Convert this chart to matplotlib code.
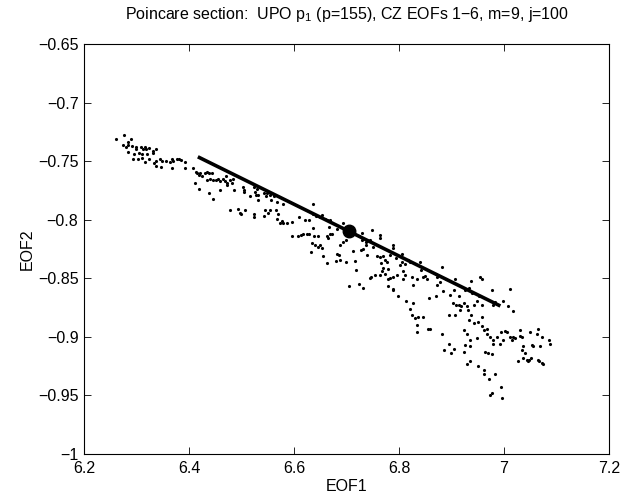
import matplotlib
matplotlib.use('Agg')
import matplotlib.pyplot as plt
import numpy as np

plt.rcParams['font.family'] = ['Liberation Sans', 'DejaVu Sans']
plt.rcParams['mathtext.default'] = 'regular'

# Poincare section points (EOF1, EOF2)
eof1 = [
    6.261, 6.277, 6.283, 6.289, 6.275, 6.281, 6.284, 6.291, 6.283, 6.299,
    6.299, 6.308, 6.312, 6.316, 6.319, 6.324, 6.331, 6.338, 6.295, 6.305,
    6.310, 6.294, 6.302, 6.310, 6.321, 6.332, 6.316, 6.324, 6.333, 6.338,
    6.345, 6.337, 6.349, 6.347, 6.357, 6.363, 6.367, 6.370, 6.377, 6.381,
    6.384, 6.367, 6.392, 6.392,
    6.408, 6.413, 6.416, 6.421, 6.424, 6.420, 6.430, 6.435, 6.439, 6.444,
    6.434, 6.440, 6.446, 6.451, 6.456, 6.459, 6.465, 6.470, 6.469, 6.473,
    6.478, 6.484, 6.482, 6.411, 6.420, 6.439, 6.446, 6.460, 6.472, 6.486,
    6.502, 6.504, 6.505, 6.523, 6.525, 6.529, 6.528, 6.516, 6.531, 6.532,
    6.542, 6.546, 6.548, 6.554, 6.556, 6.561, 6.567, 6.580, 6.554, 6.545,
    6.543, 6.550, 6.566, 6.570, 6.567, 6.578, 6.580, 6.573, 6.586, 6.596,
    6.610, 6.621, 6.629, 6.637, 6.637, 6.642, 6.650, 6.653, 6.659, 6.663,
    6.667, 6.479, 6.493, 6.497, 6.507, 6.523, 6.524, 6.500, 6.597, 6.608,
    6.613, 6.618, 6.624, 6.629, 6.637, 6.638, 6.646, 6.662, 6.669, 6.664,
    6.634, 6.640, 6.646, 6.650, 6.653, 6.632, 6.656, 6.662,
    6.669, 6.672, 6.681, 6.693, 6.729, 6.748, 6.764, 6.763, 6.723, 6.729,
    6.738, 6.744, 6.694, 6.699, 6.688, 6.681, 6.686, 6.680, 6.688, 6.700,
    6.712, 6.716, 6.727, 6.732, 6.737, 6.740, 6.751, 6.759, 6.764, 6.770,
    6.773, 6.765, 6.777, 6.783, 6.789, 6.788, 6.794, 6.805, 6.805, 6.801,
    6.812, 6.818, 6.821, 6.840, 6.841, 6.846, 6.770, 6.767, 6.773, 6.780,
    6.764, 6.754, 6.746, 6.780, 6.783, 6.789, 6.796, 6.808, 6.811, 6.808,
    6.824, 6.826, 6.834, 6.850, 6.853, 6.872, 6.873, 6.878, 6.881, 6.871,
    6.890, 6.907, 6.938, 6.954, 6.959, 6.904, 6.915, 6.926, 6.934, 6.940,
    6.953, 6.959, 6.977, 6.980, 6.983, 6.999, 7.012, 7.008, 7.018, 6.884,
    6.871, 6.897, 6.858, 6.813, 6.799, 6.789, 6.780, 6.789, 6.719, 6.724,
    6.732, 6.744, 6.705, 6.821, 6.827, 6.824, 6.831, 6.837, 6.834, 6.835,
    6.846, 6.856, 6.860, 6.896, 6.902, 6.909, 6.915, 6.919, 6.916, 6.923,
    6.929, 6.932, 6.938, 6.942, 6.951, 6.959, 6.934, 6.943, 6.948, 6.907,
    6.881, 6.923, 6.929, 6.935, 6.948, 6.958, 6.961, 6.967, 6.973, 6.980,
    6.986, 6.994, 7.002, 7.005, 7.012, 7.015, 7.018, 7.021, 7.031, 7.034,
    7.031, 7.050, 7.065, 7.062, 7.072, 7.085, 7.088, 6.999, 6.992, 6.980,
    6.967, 6.970, 6.977, 6.964, 6.935, 6.926, 6.923, 6.904, 6.895, 6.885,
    6.900, 7.037, 7.034, 7.040, 7.043, 7.048, 7.051, 7.046, 7.027, 7.037,
    7.056, 7.053, 7.069, 7.067, 7.072, 7.075, 7.064, 6.929, 6.935, 6.951,
    6.961, 6.962, 6.972, 6.983, 6.994, 6.996, 6.973, 6.977,
]
eof2 = [
    -0.731, -0.728, -0.734, -0.731, -0.736, -0.738, -0.736, -0.737, -0.742, -0.738,
    -0.740, -0.738, -0.740, -0.738, -0.740, -0.739, -0.741, -0.740, -0.744, -0.743,
    -0.744, -0.748, -0.748, -0.747, -0.744, -0.743, -0.751, -0.748, -0.752, -0.750,
    -0.748, -0.754, -0.750, -0.755, -0.750, -0.751, -0.748, -0.750, -0.748, -0.748,
    -0.749, -0.756, -0.751, -0.756,
    -0.756, -0.759, -0.760, -0.760, -0.763, -0.762, -0.760, -0.759, -0.760, -0.760,
    -0.766, -0.765, -0.766, -0.766, -0.765, -0.767, -0.765, -0.763, -0.767, -0.769,
    -0.766, -0.765, -0.769, -0.769, -0.774, -0.777, -0.782, -0.775, -0.770, -0.775,
    -0.772, -0.775, -0.776, -0.772, -0.776, -0.774, -0.779, -0.780, -0.783, -0.779,
    -0.777, -0.780, -0.777, -0.779, -0.783, -0.780, -0.785, -0.787, -0.792, -0.792,
    -0.797, -0.794, -0.792, -0.795, -0.799, -0.801, -0.803, -0.803, -0.803, -0.802,
    -0.798, -0.800, -0.800, -0.787, -0.795, -0.797, -0.798, -0.796, -0.799, -0.800,
    -0.806, -0.792, -0.791, -0.794, -0.792, -0.795, -0.798, -0.795, -0.814, -0.814,
    -0.813, -0.812, -0.812, -0.812, -0.807, -0.814, -0.814, -0.814, -0.812, -0.816,
    -0.820, -0.822, -0.823, -0.822, -0.824, -0.828, -0.831, -0.837,
    -0.800, -0.812, -0.808, -0.803, -0.811, -0.809, -0.813, -0.816, -0.814, -0.817,
    -0.819, -0.817, -0.819, -0.817, -0.822, -0.829, -0.830, -0.835, -0.834, -0.836,
    -0.827, -0.835, -0.826, -0.825, -0.822, -0.830, -0.823, -0.831, -0.832, -0.831,
    -0.834, -0.837, -0.836, -0.830, -0.822, -0.824, -0.833, -0.829, -0.836, -0.839,
    -0.838, -0.834, -0.836, -0.836, -0.843, -0.849, -0.841, -0.844, -0.846, -0.842,
    -0.847, -0.847, -0.849, -0.851, -0.850, -0.849, -0.847, -0.844, -0.847, -0.851,
    -0.849, -0.856, -0.851, -0.848, -0.851, -0.849, -0.856, -0.853, -0.840, -0.846,
    -0.851, -0.851, -0.852, -0.849, -0.851, -0.860, -0.865, -0.860, -0.858, -0.863,
    -0.865, -0.873, -0.860, -0.873, -0.870, -0.869, -0.859, -0.874, -0.878, -0.861,
    -0.865, -0.864, -0.867, -0.869, -0.865, -0.859, -0.857, -0.860, -0.843, -0.855,
    -0.858, -0.850, -0.857, -0.876, -0.871, -0.881, -0.884, -0.883, -0.890, -0.896,
    -0.883, -0.893, -0.893, -0.881, -0.871, -0.873, -0.873, -0.874, -0.877, -0.871,
    -0.874, -0.877, -0.881, -0.888, -0.887, -0.883, -0.886, -0.873, -0.869, -0.881,
    -0.898, -0.894, -0.898, -0.903, -0.901, -0.891, -0.894, -0.893, -0.900, -0.903,
    -0.900, -0.896, -0.895, -0.896, -0.900, -0.903, -0.900, -0.901, -0.899, -0.900,
    -0.894, -0.896, -0.893, -0.898, -0.900, -0.903, -0.906, -0.903, -0.906, -0.906,
    -0.898, -0.914, -0.915, -0.913, -0.908, -0.907, -0.913, -0.910, -0.906, -0.911,
    -0.914, -0.908, -0.911, -0.914, -0.920, -0.920, -0.918, -0.921, -0.921, -0.918,
    -0.908, -0.907, -0.908, -0.921, -0.922, -0.923, -0.920, -0.923, -0.921, -0.925,
    -0.928, -0.932, -0.936, -0.932, -0.943, -0.952, -0.950, -0.948,
]

# unstable direction segment and UPO fixed point
seg_x = [6.42, 6.99]
seg_y = [-0.747, -0.873]
upo_x = [6.705]
upo_y = [-0.8095]

xticks = [6.2, 6.4, 6.6, 6.8, 7.0, 7.2]
xticklabels = ['6.2', '6.4', '6.6', '6.8', '7', '7.2']
yticks = [-1, -0.95, -0.9, -0.85, -0.8, -0.75, -0.7, -0.65]
yticklabels = ['\u22121', '\u22120.95', '\u22120.9', '\u22120.85', '\u22120.8',
               '\u22120.75', '\u22120.7', '\u22120.65']

fig = plt.figure(figsize=(6.29, 4.98), dpi=100)
ax = fig.add_axes([0.1335, 0.0884, 0.8347, 0.8233])

ax.plot(eof1, eof2, '.', color='black', markersize=2.5)
ax.plot(seg_x, seg_y, '-', color='black', linewidth=2.6)
ax.plot(upo_x, upo_y, 'o', color='black', markersize=9)

ax.set_xlim(6.2, 7.2)
ax.set_ylim(-1, -0.65)
ax.set_xticks(xticks)
ax.set_xticklabels(xticklabels)
ax.set_yticks(yticks)
ax.set_yticklabels(yticklabels)
ax.tick_params(direction='in', top=True, right=True, length=5, width=0.6,
               labelsize=11.5)
ax.tick_params(axis='x', pad=5)
ax.tick_params(axis='y', pad=4)
for s in ax.spines.values():
    s.set_linewidth(0.8)

ax.set_xlabel('EOF1', fontsize=11.5, labelpad=2)
ax.set_ylabel('EOF2', fontsize=11.5, labelpad=2)
ax.set_title('Poincare section:  UPO p$_1$ (p=155), CZ EOFs 1\u22126, m=9, j=100',
             fontsize=11.5, pad=18)

fig.savefig('out.png', dpi=100)
